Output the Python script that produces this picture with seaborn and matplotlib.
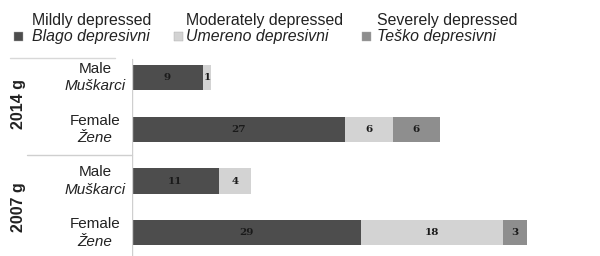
import numpy as np
import pandas as pd
import matplotlib
matplotlib.use("Agg")
import matplotlib.pyplot as plt
import seaborn as sns

# 数据
rows = ["2014 Male", "2014 Female", "2007 Male", "2007 Female"]
row_en = ["Male", "Female", "Male", "Female"]
row_sr = ["Muškarci", "Žene", "Muškarci", "Žene"]
years = ["2014 g", "2007 g"]
mild = [9, 27, 11, 29]
moderate = [1, 6, 4, 18]
severe = [0, 6, 0, 3]

series_en = ["Mildly depressed", "Moderately depressed", "Severely depressed"]
series_sr = ["Blago depresivni", "Umereno depresivni", "Teško depresivni"]
colors = ["#4d4d4d", "#d3d3d3", "#8e8e8e"]

sns.set_style("white")
plt.rcParams["font.family"] = ["Liberation Sans", "DejaVu Sans"]

df = pd.DataFrame({"row": rows, "mild": mild, "moderate": moderate, "severe": severe})
df["c1"] = df["mild"]
df["c2"] = df["mild"] + df["moderate"]
df["c3"] = df["c2"] + df["severe"]

fig = plt.figure(figsize=(6, 2.56), dpi=100)
ax = fig.add_axes([132 / 600, 0, 1 - 132 / 600, (256 - 57) / 256])

# 堆叠：先画总和，再覆盖
for col, c in zip(["c3", "c2", "c1"], colors[::-1]):
    sns.barplot(data=df, y="row", x=col, orient="h", order=rows, color=c,
                width=0.49, saturation=1, linewidth=0, ax=ax)

ax.set_xlim(0, (600 - 132) / 7.9)
ax.set_ylim(3.45, -0.40)
ax.set_xlabel("")
ax.set_ylabel("")
ax.set_xticks([])
ax.set_yticks([])
for s in ax.spines.values():
    s.set_visible(False)
ax.axvline(0, color="#cfcfcf", lw=1, ymax=0.99)

# 数值标签
for i in range(len(rows)):
    segs = [(mild[i], 0), (moderate[i], mild[i]), (severe[i], mild[i] + moderate[i])]
    for v, start in segs:
        if v > 0:
            ax.text(start + v / 2, i, str(v), ha="center", va="center",
                    fontsize=7.5, fontweight="bold", family="DejaVu Serif", color="#1a1a1a")

# 行标签（英/塞双语）
trans = ax.get_yaxis_transform()
for i in range(len(rows)):
    ax.text(-37 / 468, i - 0.17, row_en[i], transform=trans, ha="center", va="center",
            fontsize=11, color="#222222", clip_on=False)
    ax.text(-37 / 468, i + 0.17, row_sr[i], transform=trans, ha="center", va="center",
            fontsize=11, style="italic", color="#222222", clip_on=False)

# 年份标签
for j, y in enumerate(years):
    ax.text(-113 / 468, 2 * j + 0.5, y, transform=trans, ha="center", va="center",
            rotation=90, fontsize=11.5, fontweight="bold", color="#222222", clip_on=False)

# 分隔线
fig.add_artist(plt.Line2D([27 / 600, 132 / 600], [1 - 155 / 256] * 2, color="#cfcfcf", lw=1))
fig.add_artist(plt.Line2D([10 / 600, 115 / 600], [1 - 58 / 256] * 2, color="#d8d8d8", lw=1))

# 图例
leg_x = [18, 178, 366]
txt_x = [32, 186, 377]
for k in range(3):
    fig.add_artist(plt.Rectangle(((leg_x[k] - 4.5) / 600, 1 - 40.5 / 256), 9 / 600, 9 / 256,
                                 facecolor=colors[k], edgecolor="#aaaaaa", lw=0.3))
    fig.text(txt_x[k] / 600, 1 - 20 / 256, series_en[k], ha="left", va="center",
             fontsize=11.4, color="#222222")
    fig.text(txt_x[k] / 600, 1 - 36 / 256, series_sr[k], ha="left", va="center",
             fontsize=11.4, style="italic", color="#222222")

fig.savefig("out.png", dpi=100)
